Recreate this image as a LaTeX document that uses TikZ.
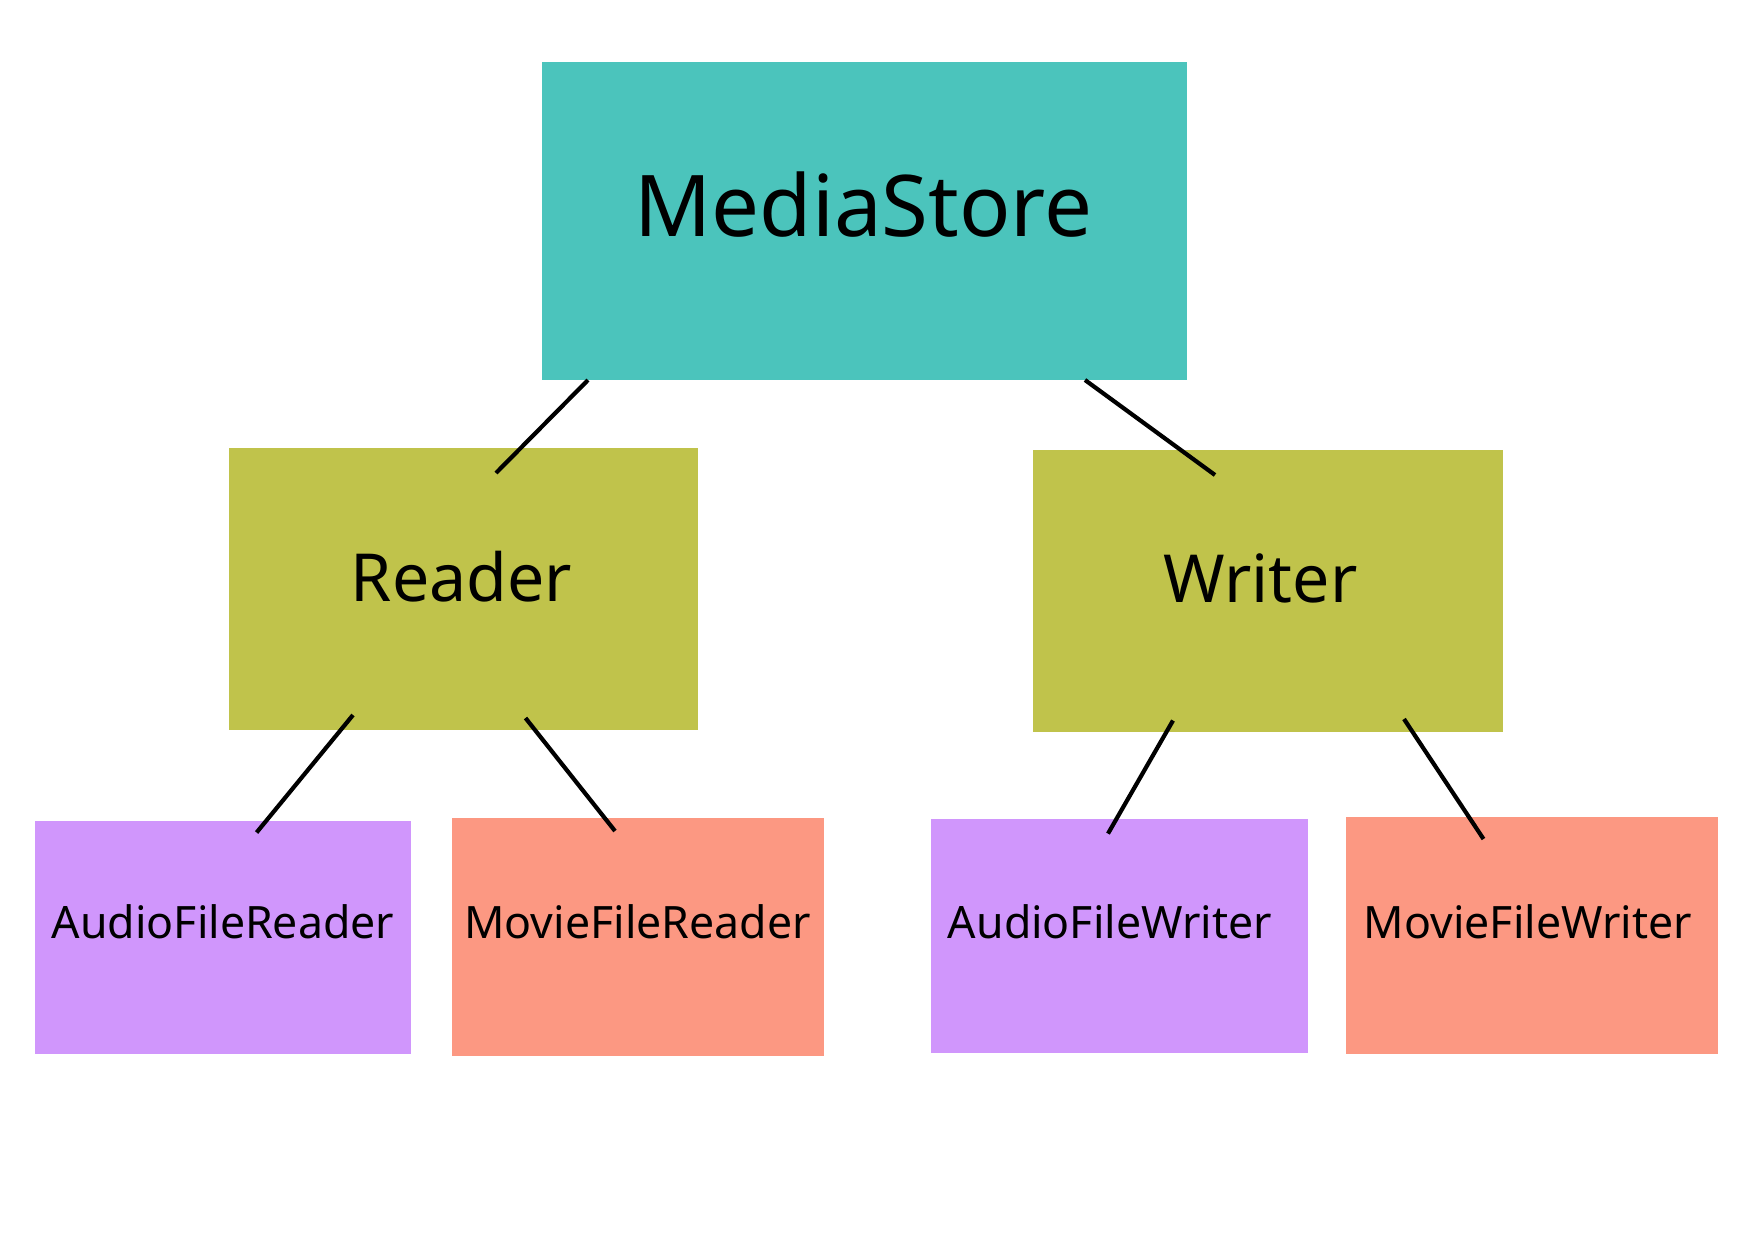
\documentclass[tikz,border=0pt]{standalone}
\usepackage{fontspec}
\setmainfont{Noto Sans}
\usetikzlibrary{calc}
\definecolor{storecol}{RGB}{75,196,188}
\definecolor{midcol}{RGB}{192,195,75}
\definecolor{audiocol}{RGB}{208,150,252}
\definecolor{moviecol}{RGB}{252,152,130}
\begin{document}
\begin{tikzpicture}[x=1bp,y=-1bp,
  box/.style={rectangle, draw=none, inner sep=0pt, outer sep=0pt},
  lbl/.style={anchor=base, inner sep=0pt, outer sep=0pt, text=black},
  big/.style={lbl, font=\fontsize{85.5}{100}\selectfont},
  mid/.style={lbl, font=\fontsize{66.5}{80}\selectfont},
  small/.style={lbl, font=\fontsize{44.8}{54}\selectfont},
  conn/.style={draw=black, line width=4.2bp}]
\useasboundingbox (0,0) rectangle (1748,1240);
% boxes
\node[box, fill=storecol, minimum width=645bp, minimum height=318bp] (ms) at (864.5,221) {};
\node[box, fill=midcol, minimum width=469.4bp, minimum height=281.5bp] (rd) at (463.3,588.75) {};
\node[box, fill=midcol, minimum width=469.6bp, minimum height=281.7bp] (wr) at (1267.8,590.85) {};
\node[box, fill=audiocol, minimum width=376.3bp, minimum height=233bp] (afr) at (222.85,937.5) {};
\node[box, fill=moviecol, minimum width=372bp, minimum height=237.5bp] (mfr) at (637.6,936.75) {};
\node[box, fill=audiocol, minimum width=376.6bp, minimum height=234bp] (afw) at (1119.3,936) {};
\node[box, fill=moviecol, minimum width=372bp, minimum height=237bp] (mfw) at (1531.7,935.5) {};
% labels
\node[big] (mst) at (863.5,236) {MediaStore};
\node[mid] (rdt) at (461.5,601) {Reader};
\node[mid] (wrt) at (1260.5,602) {Writer};
\node[small] (afrt) at (223,938) {AudioFileReader};
\node[small] (mfrt) at (637.5,938) {MovieFileReader};
\node[small] (afwt) at (1110,938) {AudioFileWriter};
\node[small] (mfwt) at (1528,938) {MovieFileWriter};
% connectors
\draw[conn] ($(ms.south west)+(46,0)$) -- ($(rd.north west)+(267.4,25)$);
\draw[conn] ($(ms.south west)+(543,0)$) -- ($(wr.north west)+(182,25)$);
\draw[conn] ($(rd.south west)+(124.4,-14.5)$) -- ($(afr.north west)+(221.9,11.5)$);
\draw[conn] ($(rd.south west)+(296.9,-11.5)$) -- ($(mfr.north west)+(163.4,13)$);
\draw[conn] ($(wr.south west)+(140,-11.2)$) -- ($(afw.north west)+(177,14.6)$);
\draw[conn] ($(wr.south west)+(371,-12.7)$) -- ($(mfw.north west)+(137.8,22)$);
\end{tikzpicture}
\end{document}
